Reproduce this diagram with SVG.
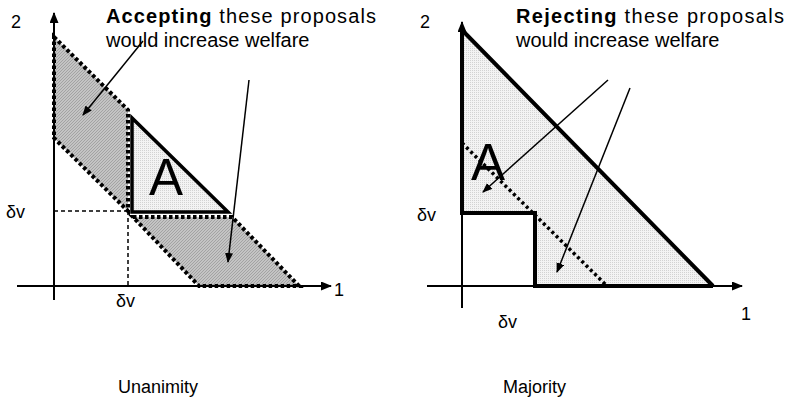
<svg xmlns="http://www.w3.org/2000/svg" width="791" height="405" viewBox="0 0 791 405">
<defs>
<pattern id="hatch" width="3" height="3" patternUnits="userSpaceOnUse">
<rect width="3" height="3" fill="#c4c4c4"/>
<path d="M0,3 L3,0" stroke="#9a9a9a" stroke-width="0.8"/>
</pattern>
<pattern id="dots" width="2" height="2" patternUnits="userSpaceOnUse">
<rect width="2" height="2" fill="#f3f3f3"/>
<rect width="1" height="1" fill="#d2d2d2"/>
</pattern>
<marker id="ah" markerWidth="10" markerHeight="8" refX="9" refY="4" orient="auto" markerUnits="userSpaceOnUse">
<path d="M0,0 L10,4 L0,8 z" fill="#000"/>
</marker>
<marker id="axh" markerWidth="11" markerHeight="9" refX="10" refY="4.5" orient="auto" markerUnits="userSpaceOnUse">
<path d="M0,0 L11,4.5 L0,9 z" fill="#000"/>
</marker>
</defs>
<style>
text{font-family:"Liberation Sans",Arial,sans-serif;fill:#000}
.lbl{font-size:18px}
.top{font-size:20px}
.big{font-size:51px}
.axis{stroke:#000;stroke-width:2;fill:none}
.dotted{stroke:#000;stroke-width:4;stroke-dasharray:3.5 2.5;fill:url(#hatch)}
.thick{stroke:#000;stroke-width:4;fill:none;stroke-linejoin:miter}
.dash{stroke:#000;stroke-width:1.5;stroke-dasharray:4 3;fill:none}
.arr{stroke:#000;stroke-width:1.5;fill:none;marker-end:url(#ah)}
</style>

<g id="left-panel">
<polygon class="dotted" points="54,37 128,110 128,211 54,138"/>
<polygon class="dotted" points="133,217 232,217 299,286 199,286"/>
<polygon points="132,118 132,212 228,212" fill="url(#dots)" stroke="#000" stroke-width="3.5"/>
<line class="dash" x1="54" y1="211" x2="128" y2="211"/>
<line class="dash" x1="128" y1="211" x2="128" y2="286"/>
<line class="axis" x1="54" y1="300" x2="54" y2="13" marker-end="url(#axh)"/>
<line class="axis" x1="17" y1="286" x2="331" y2="286" marker-end="url(#axh)"/>
<text class="big" x="149" y="195">A</text>
<text class="lbl" x="11" y="28">2</text>
<text class="lbl" x="6" y="218">δv</text>
<text class="lbl" x="116" y="307">δv</text>
<text class="lbl" x="334" y="296">1</text>
<text class="top" x="106" y="23" textLength="270" lengthAdjust="spacing"><tspan font-weight="bold">Accepting</tspan> these proposals</text>
<text class="top" x="106" y="47">would increase welfare</text>
<text class="lbl" x="118" y="393">Unanimity</text>
</g>

<g id="right-panel">
<polygon points="462,30 713,286 535,286 535,213 462,213" fill="url(#dots)"/>
<line x1="462" y1="143" x2="607" y2="286" stroke="#000" stroke-width="3.5" stroke-dasharray="3 3"/>
<line class="axis" x1="462" y1="308" x2="462" y2="22" marker-end="url(#axh)"/>
<line class="axis" x1="427" y1="286" x2="742" y2="286" marker-end="url(#axh)"/>
<polyline class="thick" points="713,286 535,286 535,213 462,213 462,30 713,286"/>
<text class="big" x="471" y="180">A</text>
<text class="lbl" x="420" y="28">2</text>
<text class="lbl" x="417" y="221">δv</text>
<text class="lbl" x="498" y="328">δv</text>
<text class="lbl" x="741" y="320">1</text>
<text class="top" x="516" y="23" textLength="268" lengthAdjust="spacing"><tspan font-weight="bold">Rejecting</tspan> these proposals</text>
<text class="top" x="516" y="47">would increase welfare</text>
<text class="lbl" x="503" y="393">Majority</text>
</g>

<g id="connectors">
<line class="arr" x1="143" y1="41" x2="83" y2="115"/>
<line class="arr" x1="249" y1="80" x2="228" y2="262"/>
<line class="arr" x1="608" y1="80" x2="483" y2="192"/>
<line class="arr" x1="630" y1="88" x2="557" y2="272"/>
</g>
</svg>
